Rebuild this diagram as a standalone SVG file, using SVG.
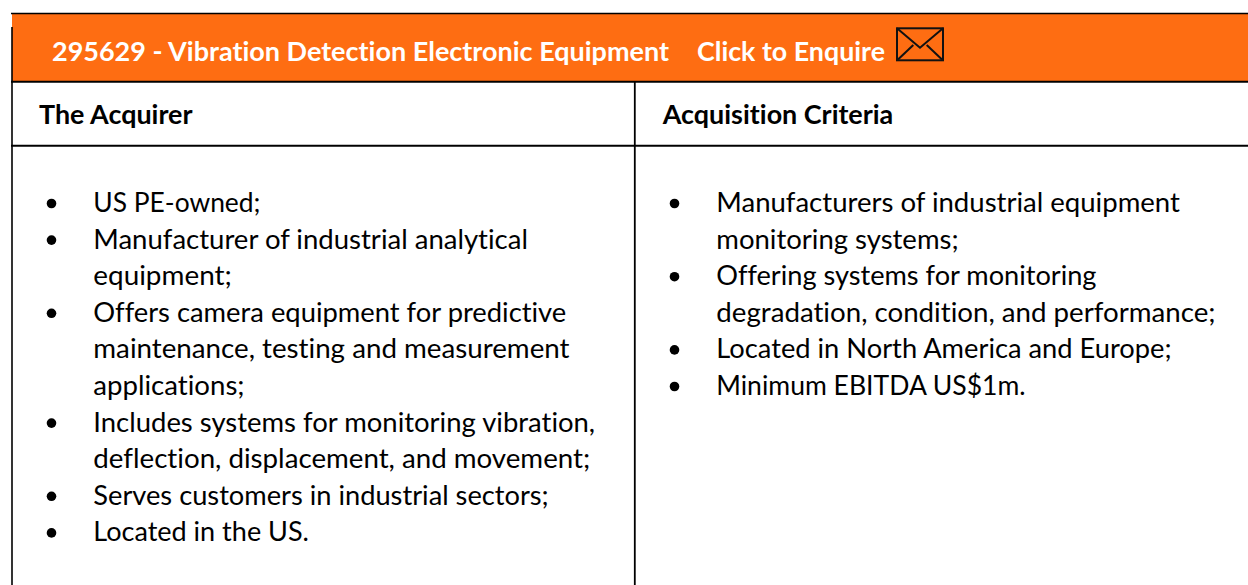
<svg xmlns="http://www.w3.org/2000/svg" width="1248" height="585" viewBox="0 0 1248 585">
<style>
.t{font-family:Lato,"Liberation Sans",sans-serif;font-size:26px;fill:#000;font-variant-ligatures:none}
.b{font-weight:bold}
.w{fill:#fff}
.g{stroke:#000;fill:none}
.env{stroke:#111;stroke-width:2;fill:none;stroke-linejoin:miter}
.dot{fill:#000}
</style>
<rect width="1248" height="585" fill="#fff"/>
<g id="grid">
<rect x="12" y="14" width="1236" height="67.5" fill="#FE6D12"/>
<line class="g" x1="11" y1="13.5" x2="1248" y2="13.5" stroke-width="1.4"/>
<line class="g" x1="11" y1="81.7" x2="1248" y2="81.7" stroke-width="2"/>
<line class="g" x1="11" y1="145.7" x2="1248" y2="145.7" stroke-width="2"/>
<line class="g" x1="12" y1="27" x2="12" y2="585" stroke-width="1.6"/>
<line class="g" x1="634.8" y1="82" x2="634.8" y2="585" stroke-width="1.8"/>
</g>
<g id="title">
<text class="t b w" x="52" y="61" textLength="617" lengthAdjust="spacingAndGlyphs">295629 - Vibration Detection Electronic Equipment</text>
<text class="t b w" x="697" y="61" textLength="188" lengthAdjust="spacingAndGlyphs">Click to Enquire</text>
<g id="envelope">
<rect class="env" x="897" y="28.3" width="46" height="32"/>
<polyline class="env" points="897,28.3 920,47.7 943,28.3"/>
<line class="env" x1="898" y1="59.5" x2="913.3" y2="45"/>
<line class="env" x1="942" y1="59.5" x2="926.7" y2="45"/>
</g>
</g>
<g id="heading-acquirer">
<text class="t b" x="39" y="124" textLength="153.5" lengthAdjust="spacingAndGlyphs">The Acquirer</text>
</g>
<g id="heading-criteria">
<text class="t b" x="662.7" y="124" textLength="230.6" lengthAdjust="spacingAndGlyphs">Acquisition Criteria</text>
</g>
<g id="acquirer">
<circle class="dot" cx="51.5" cy="203.5" r="4.8"/>
<circle class="dot" cx="51.5" cy="240.1" r="4.8"/>
<circle class="dot" cx="51.5" cy="313.3" r="4.8"/>
<circle class="dot" cx="51.5" cy="423.1" r="4.8"/>
<circle class="dot" cx="51.5" cy="496.3" r="4.8"/>
<circle class="dot" cx="51.5" cy="532.9" r="4.8"/>
<text class="t" x="93.3" y="212" textLength="167.2" lengthAdjust="spacingAndGlyphs">US PE-owned;</text>
<text class="t" x="93.3" y="248.6" textLength="434.6" lengthAdjust="spacingAndGlyphs">Manufacturer of industrial analytical</text>
<text class="t" x="93.3" y="285.2" textLength="138.5" lengthAdjust="spacingAndGlyphs">equipment;</text>
<text class="t" x="93.3" y="321.8" textLength="473" lengthAdjust="spacingAndGlyphs">Offers camera equipment for predictive</text>
<text class="t" x="93.3" y="358.4" textLength="476.2" lengthAdjust="spacingAndGlyphs">maintenance, testing and measurement</text>
<text class="t" x="93.3" y="395" textLength="151.3" lengthAdjust="spacingAndGlyphs">applications;</text>
<text class="t" x="93.3" y="431.6" textLength="501.8" lengthAdjust="spacingAndGlyphs">Includes systems for monitoring vibration,</text>
<text class="t" x="93.3" y="468.2" textLength="496.9" lengthAdjust="spacingAndGlyphs">deflection, displacement, and movement;</text>
<text class="t" x="93.3" y="504.8" textLength="455.4" lengthAdjust="spacingAndGlyphs">Serves customers in industrial sectors;</text>
<text class="t" x="93.3" y="541.4" textLength="215.7" lengthAdjust="spacingAndGlyphs">Located in the US.</text>
</g>
<g id="criteria">
<circle class="dot" cx="674.5" cy="203.5" r="4.8"/>
<circle class="dot" cx="674.5" cy="276.7" r="4.8"/>
<circle class="dot" cx="674.5" cy="349.9" r="4.8"/>
<circle class="dot" cx="674.5" cy="386.5" r="4.8"/>
<text class="t" x="716.3" y="212" textLength="463.6" lengthAdjust="spacingAndGlyphs">Manufacturers of industrial equipment</text>
<text class="t" x="716.3" y="248.6" textLength="242.3" lengthAdjust="spacingAndGlyphs">monitoring systems;</text>
<text class="t" x="716.3" y="285.2" textLength="380.2" lengthAdjust="spacingAndGlyphs">Offering systems for monitoring</text>
<text class="t" x="716.3" y="321.8" textLength="499.2" lengthAdjust="spacingAndGlyphs">degradation, condition, and performance;</text>
<text class="t" x="716.3" y="358.4" textLength="455.3" lengthAdjust="spacingAndGlyphs">Located in North America and Europe;</text>
<text class="t" x="716.3" y="395" textLength="309.3" lengthAdjust="spacingAndGlyphs">Minimum EBITDA US$1m.</text>
</g>
</svg>
